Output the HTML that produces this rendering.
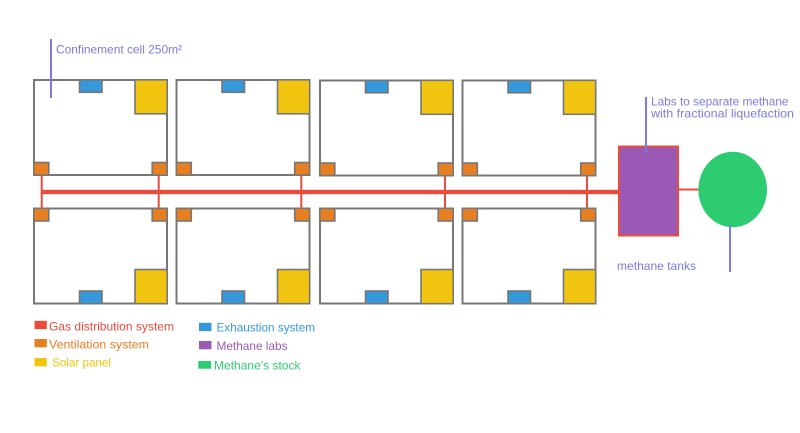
<!DOCTYPE html>
<html>
<head>
<meta charset="utf-8">
<style>
html,body{margin:0;padding:0;background:#fff;}
svg{display:block;}
text{font-family:"Liberation Sans",sans-serif;font-size:12px;}
</style>
</head>
<body>
<svg width="800" height="433" viewBox="0 0 800 433" xmlns="http://www.w3.org/2000/svg">
<rect x="0" y="0" width="800" height="433" fill="#fff"/>

<!-- Gas distribution pipes (drawn beneath cells) -->
<g stroke="#e74c3c" stroke-width="2" fill="none">
  <line x1="41.7" y1="174" x2="41.7" y2="210"/>
  <line x1="158.7" y1="174" x2="158.7" y2="210"/>
  <line x1="301.3" y1="174" x2="301.3" y2="210"/>
  <line x1="445" y1="174" x2="445" y2="210"/>
  <line x1="587" y1="174" x2="587" y2="210"/>
  <line x1="679" y1="189.5" x2="699" y2="189.5"/>
</g>
<rect x="41" y="189.8" width="578" height="4.4" fill="#e74c3c"/>

<!-- Top row cells -->
<g stroke="#777" stroke-width="1.6">
  <g transform="translate(33,79)">
    <rect x="1" y="1" width="133" height="95" fill="#fff" stroke-width="2"/>
    <rect x="46.5" y="0.8" width="22.5" height="12.5" fill="#3498db"/>
    <rect x="102" y="0.8" width="32.2" height="34" fill="#f1c40f"/>
    <rect x="0.8" y="83.5" width="15" height="12.7" fill="#e67e22"/>
    <rect x="119.2" y="83.5" width="15" height="12.7" fill="#e67e22"/>
  </g>
  <g transform="translate(175.5,79)">
    <rect x="1" y="1" width="133" height="95" fill="#fff" stroke-width="2"/>
    <rect x="46.5" y="0.8" width="22.5" height="12.5" fill="#3498db"/>
    <rect x="102" y="0.8" width="32.2" height="34" fill="#f1c40f"/>
    <rect x="0.8" y="83.5" width="15" height="12.7" fill="#e67e22"/>
    <rect x="119.2" y="83.5" width="15" height="12.7" fill="#e67e22"/>
  </g>
  <g transform="translate(319,79.5)">
    <rect x="1" y="1" width="133" height="95" fill="#fff" stroke-width="2"/>
    <rect x="46.5" y="0.8" width="22.5" height="12.5" fill="#3498db"/>
    <rect x="102" y="0.8" width="32.2" height="34" fill="#f1c40f"/>
    <rect x="0.8" y="83.5" width="15" height="12.7" fill="#e67e22"/>
    <rect x="119.2" y="83.5" width="15" height="12.7" fill="#e67e22"/>
  </g>
  <g transform="translate(461.5,79.5)">
    <rect x="1" y="1" width="133" height="95" fill="#fff" stroke-width="2"/>
    <rect x="46.5" y="0.8" width="22.5" height="12.5" fill="#3498db"/>
    <rect x="102" y="0.8" width="32.2" height="34" fill="#f1c40f"/>
    <rect x="0.8" y="83.5" width="15" height="12.7" fill="#e67e22"/>
    <rect x="119.2" y="83.5" width="15" height="12.7" fill="#e67e22"/>
  </g>

  <!-- Bottom row cells -->
  <g transform="translate(33,207.5)">
    <rect x="1" y="1" width="133" height="95" fill="#fff" stroke-width="2"/>
    <rect x="0.8" y="0.8" width="15" height="12.7" fill="#e67e22"/>
    <rect x="119.2" y="0.8" width="15" height="12.7" fill="#e67e22"/>
    <rect x="102" y="62" width="32.2" height="34.2" fill="#f1c40f"/>
    <rect x="46.5" y="83.5" width="22.5" height="12.7" fill="#3498db"/>
  </g>
  <g transform="translate(175.5,207.5)">
    <rect x="1" y="1" width="133" height="95" fill="#fff" stroke-width="2"/>
    <rect x="0.8" y="0.8" width="15" height="12.7" fill="#e67e22"/>
    <rect x="119.2" y="0.8" width="15" height="12.7" fill="#e67e22"/>
    <rect x="102" y="62" width="32.2" height="34.2" fill="#f1c40f"/>
    <rect x="46.5" y="83.5" width="22.5" height="12.7" fill="#3498db"/>
  </g>
  <g transform="translate(319,207.5)">
    <rect x="1" y="1" width="133" height="95" fill="#fff" stroke-width="2"/>
    <rect x="0.8" y="0.8" width="15" height="12.7" fill="#e67e22"/>
    <rect x="119.2" y="0.8" width="15" height="12.7" fill="#e67e22"/>
    <rect x="102" y="62" width="32.2" height="34.2" fill="#f1c40f"/>
    <rect x="46.5" y="83.5" width="22.5" height="12.7" fill="#3498db"/>
  </g>
  <g transform="translate(461.5,207.5)">
    <rect x="1" y="1" width="133" height="95" fill="#fff" stroke-width="2"/>
    <rect x="0.8" y="0.8" width="15" height="12.7" fill="#e67e22"/>
    <rect x="119.2" y="0.8" width="15" height="12.7" fill="#e67e22"/>
    <rect x="102" y="62" width="32.2" height="34.2" fill="#f1c40f"/>
    <rect x="46.5" y="83.5" width="22.5" height="12.7" fill="#3498db"/>
  </g>
</g>

<!-- Methane labs -->
<rect x="619" y="146.5" width="59" height="89" fill="#9b59b6" stroke="#e74c3c" stroke-width="2"/>

<!-- Methane stock -->
<ellipse cx="732.7" cy="189.5" rx="34.3" ry="37.7" fill="#2ecc71"/>

<!-- Callout lines -->
<g stroke="#7b7be6" stroke-width="2">
  <line x1="51" y1="39" x2="51" y2="98"/>
  <line x1="646" y1="97" x2="646" y2="152"/>
  <line x1="730" y1="225" x2="730" y2="272"/>
</g>

<!-- Callout text -->
<g fill="#7b7be0">
  <text x="56" y="53.5" textLength="126" lengthAdjust="spacingAndGlyphs">Confinement cell 250m²</text>
  <text x="651" y="105.5" textLength="137.5" lengthAdjust="spacingAndGlyphs">Labs to separate methane</text>
  <text x="651" y="117.5" textLength="143" lengthAdjust="spacingAndGlyphs">with fractional liquefaction</text>
  <text x="617" y="270" textLength="79" lengthAdjust="spacingAndGlyphs">methane tanks</text>
</g>

<!-- Legend -->
<rect x="34.5" y="320.8" width="12.3" height="8.3" fill="#e74c3c"/>
<text x="49" y="330.5" fill="#e74c3c" textLength="125" lengthAdjust="spacingAndGlyphs">Gas distribution system</text>
<rect x="34.5" y="339" width="12.3" height="8.3" fill="#e67e22"/>
<text x="49" y="348.5" fill="#e67e22" textLength="100" lengthAdjust="spacingAndGlyphs">Ventilation system</text>
<rect x="34.5" y="358" width="12.3" height="8.3" fill="#f1c40f"/>
<text x="52" y="366.5" fill="#f1c40f" textLength="59" lengthAdjust="spacingAndGlyphs">Solar panel</text>

<rect x="199" y="322.8" width="12.5" height="8.3" fill="#3498db"/>
<text x="216.5" y="331.5" fill="#3498db" textLength="98.5" lengthAdjust="spacingAndGlyphs">Exhaustion system</text>
<rect x="199" y="341" width="12.5" height="8.3" fill="#9b59b6"/>
<text x="216.5" y="350" fill="#9b59b6" textLength="71" lengthAdjust="spacingAndGlyphs">Methane labs</text>
<rect x="198.3" y="361" width="12.7" height="7.7" fill="#2ecc71"/>
<text x="214" y="369.5" fill="#2ecc71" textLength="86.5" lengthAdjust="spacingAndGlyphs">Methane's stock</text>
</svg>
</body>
</html>
